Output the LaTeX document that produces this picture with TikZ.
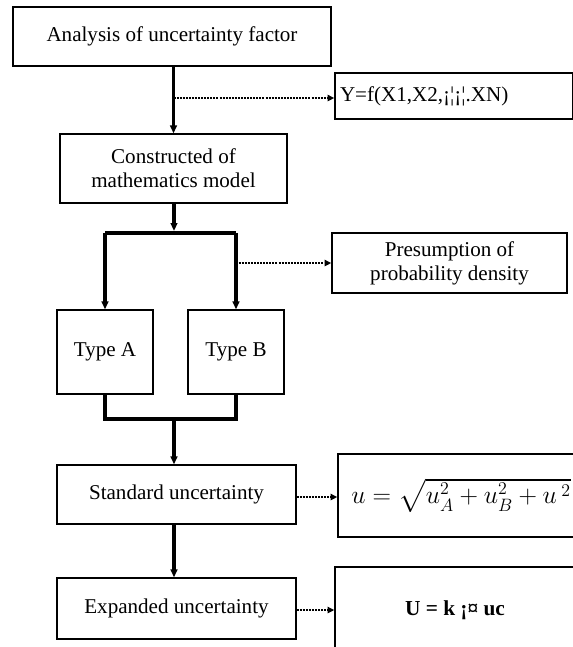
\RequirePackage{fix-cm}
\documentclass[tikz,border=0pt]{standalone}
\usepackage{amsmath}
\usepackage{fontspec}
\setmainfont{Liberation Serif}
\usetikzlibrary{arrows.meta}

\begin{document}
\begin{tikzpicture}[x=0.75pt,y=0.75pt,yscale=-1,xscale=1,
  box/.style={draw, line width=0.9pt, inner sep=0.75pt, align=center, font=\fontsize{15.8}{18}\selectfont},
  sz/.style 2 args={minimum width=#1*0.75pt, minimum height=#2*0.75pt},
  solidarr/.style={line width=2.3pt, -{Triangle[length=6pt,width=5pt]}},
  solidline/.style={line width=2.3pt},
  dotarr/.style={line width=2pt, dash pattern=on 1.5pt off 0.8pt, -{Triangle[length=5pt,width=4.5pt]}}]
\useasboundingbox (0,0) rectangle (573,647);

%Shape: Rectangle [id:ana] 
\node [box, sz={318}{59}] (ana) at (172,36.5) {Analysis of uncertainty factor};
%Shape: Rectangle [id:yfun] 
\node [box, sz={238}{46}, text width=228*0.75pt, align=left, inner xsep=4*0.75pt] (yfun) at (454,96) {Y=f(X1,X2,¡¦¡¦.XN)};
%Shape: Rectangle [id:con] 
\node [box, sz={227}{69}] (con) at (173.5,168.5) {Constructed of\\mathematics model};
%Shape: Rectangle [id:pre] 
\node [box, sz={235}{60}] (pre) at (449.5,263) {Presumption of\\probability density};
%Shape: Rectangle [id:typA] 
\node [box, sz={96}{84}] (typA) at (105,352) {Type A};
%Shape: Rectangle [id:typB] 
\node [box, sz={96}{84}] (typB) at (236,352) {Type B};
%Shape: Rectangle [id:std] 
\node [box, sz={239}{59}] (std) at (176.5,494.5) {Standard uncertainty};
%Shape: Rectangle [id:frm] 
\node [box, sz={246}{83}, font=\fontsize{19.2}{23}\selectfont] (frm) at (461,495.5) {$u=\sqrt{u_A^2+u_B^2+u\,{}^{2}}$};
%Shape: Rectangle [id:exp] 
\node [box, sz={239}{61}] (exp) at (176.5,608.5) {Expanded uncertainty};
%Shape: Rectangle [id:ubox] 
\node [box, sz={240}{86}, font=\fontsize{16}{18}\selectfont\bfseries] (ubox) at (455,610) {U = k ¡¤ uc};

%Points 
\coordinate (split) at (174,233);
\coordinate (join) at (174,419);

%Straight Lines 
\draw [solidarr] (ana.south -| con.north) -- (con.north);
\draw [dotarr] (con.north |- 0,98) -- (yfun.west |- 0,98);
%Straight Lines 
\draw [solidarr] (con.south -| split) -- ([yshift=-1.5]split);
\draw [solidline] (typA.north |- split) -- (typB.north |- split);
\draw [solidarr] (typA.north |- split) -- (typA.north);
\draw [solidarr] (typB.north |- split) -- (typB.north);
\draw [dotarr] ([xshift=2]typB.north |- pre.west) -- (pre.west);
%Straight Lines 
\draw [solidline] (typA.south) |- (join) -| (typB.south);
\draw [solidarr] (join) -- (join |- std.north);
\draw [solidarr] (join |- std.south) -- (join |- exp.north);
%Straight Lines 
\draw [dotarr] (std.east |- 0,497) -- (frm.west |- 0,497);
\draw [dotarr] (exp.east |- 0,610) -- (ubox.west |- 0,610);

\end{tikzpicture}
\end{document}
